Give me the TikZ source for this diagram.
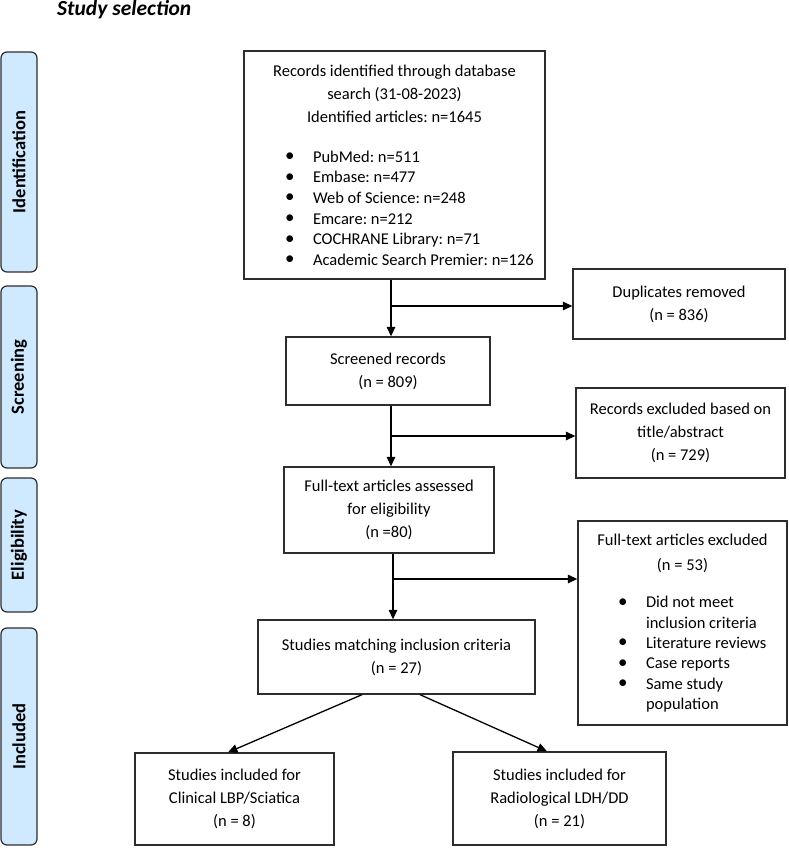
\documentclass[tikz,border=0pt]{standalone}
\usepackage{fontspec}
\setmainfont{Carlito}
\usetikzlibrary{arrows.meta,calc}
\definecolor{tabblue}{RGB}{207,233,255}
\definecolor{edgegray}{RGB}{45,45,45}
\newcommand{\bitem}[2]{\hspace*{#1}\makebox[28pt][l]{\raisebox{0.5pt}{\scalebox{1.15}{\textbullet}}}#2}
\frenchspacing
\begin{document}
\begin{tikzpicture}[x=1pt,y=-1pt,
  box/.style={draw=edgegray, line width=1.3pt, inner sep=0pt, font=\fontsize{16.5}{23}\selectfont, text=black},
  cbox/.style={box, align=center},
  tab/.style={draw=edgegray, line width=1.2pt, fill=tabblue, rounded corners=6pt, inner sep=0pt, minimum width=36pt, font=\fontsize{18.5}{20}\selectfont\bfseries},
  arr/.style={draw=black, line width=1.3pt, -{Triangle[length=9.5pt,width=8.5pt]}}]
\useasboundingbox (0,0) rectangle (788,848);

% title
\node[anchor=base west, inner sep=0pt, font=\fontsize{21.5}{24}\selectfont\bfseries\itshape] (title) at (57,16) {Study selection};

% side tabs
\node[tab, minimum height=220pt] (tid) at (19,162) {\rotatebox{90}{Identification}};
\node[tab, minimum height=182pt] (tsc) at (19,377) {\rotatebox{90}{Screening}};
\node[tab, minimum height=134pt] (tel) at (19,545) {\rotatebox{90}{Eligibility}};
\node[tab, minimum height=217pt] (tin) at (19,736.5) {\rotatebox{90}{Included}};

% boxes
\node[box, minimum width=301pt, minimum height=228pt] (b1) at (394.5,165) {\parbox{301pt}{\centering
  Records identified through database\\search (31-08-2023)\\Identified articles: n=1645\par
  \vspace{19.5pt}\raggedright\fontsize{16.5}{20.6}\selectfont
  \bitem{41pt}{PubMed: n=511}\\
  \bitem{41pt}{Embase: n=477}\\
  \bitem{41pt}{Web of Science: n=248}\\
  \bitem{41pt}{Emcare: n=212}\\
  \bitem{41pt}{COCHRANE Library: n=71}\\
  \bitem{41pt}{Academic Search Premier: n=126}\par}};

\node[cbox, minimum width=212pt, minimum height=70pt] (dup) at (679,304) {Duplicates removed\\(n = 836)};
\node[cbox, minimum width=204pt, minimum height=68pt] (scr) at (388,371) {Screened records\\(n = 809)};
\node[cbox, minimum width=209pt, minimum height=90pt] (rex) at (680.5,433) {Records excluded based on\\title/abstract\\(n = 729)};
\node[cbox, minimum width=210pt, minimum height=86pt] (fta) at (389,510) {Full-text articles assessed\\for eligibility\\(n =80)};

\node[box, minimum width=209pt, minimum height=204pt] (fte) at (682.5,623) {\parbox{209pt}{\centering\fontsize{16.5}{24.5}\selectfont
  Full-text articles excluded\\(n = 53)\par
  \vspace{17.5pt}\raggedright\fontsize{16.5}{20.3}\selectfont
  \bitem{40pt}{Did not meet}\\
  \hspace*{68pt}inclusion criteria\\
  \bitem{40pt}{Literature reviews}\\
  \bitem{40pt}{Case reports}\\
  \bitem{40pt}{Same study}\\
  \hspace*{68pt}population\par}};

\node[cbox, minimum width=277pt, minimum height=74pt] (sm) at (396.5,657) {Studies matching inclusion criteria\\(n = 27)};
\node[cbox, minimum width=199pt, minimum height=92pt] (clin) at (234.5,799) {Studies included for\\Clinical LBP/Sciatica\\(n = 8)};
\node[cbox, minimum width=213pt, minimum height=93pt] (rad) at (559.5,798.5) {Studies included for\\Radiological LDH/DD\\(n = 21)};

% connectors
\coordinate (j1) at (391,306);
\coordinate (j2) at (391,436);
\coordinate (j3) at (393,579);
\draw[arr] (b1.south -| j1) -- (scr.north -| j1);
\draw[arr] (j1) -- (j1 -| dup.west);
\draw[arr] (scr.south -| j2) -- (fta.north -| j2);
\draw[arr] (j2) -- (j2 -| rex.west);
\draw[arr] (fta.south -| j3) -- (sm.north -| j3);
\draw[arr] (j3) -- (j3 -| fte.west);
\draw[arr] ([xshift=-34.5pt]sm.south) -- ([xshift=-6.5pt]clin.north);
\draw[arr] ([xshift=23.5pt]sm.south) -- ([xshift=-12.5pt]rad.north);
\end{tikzpicture}
\end{document}
